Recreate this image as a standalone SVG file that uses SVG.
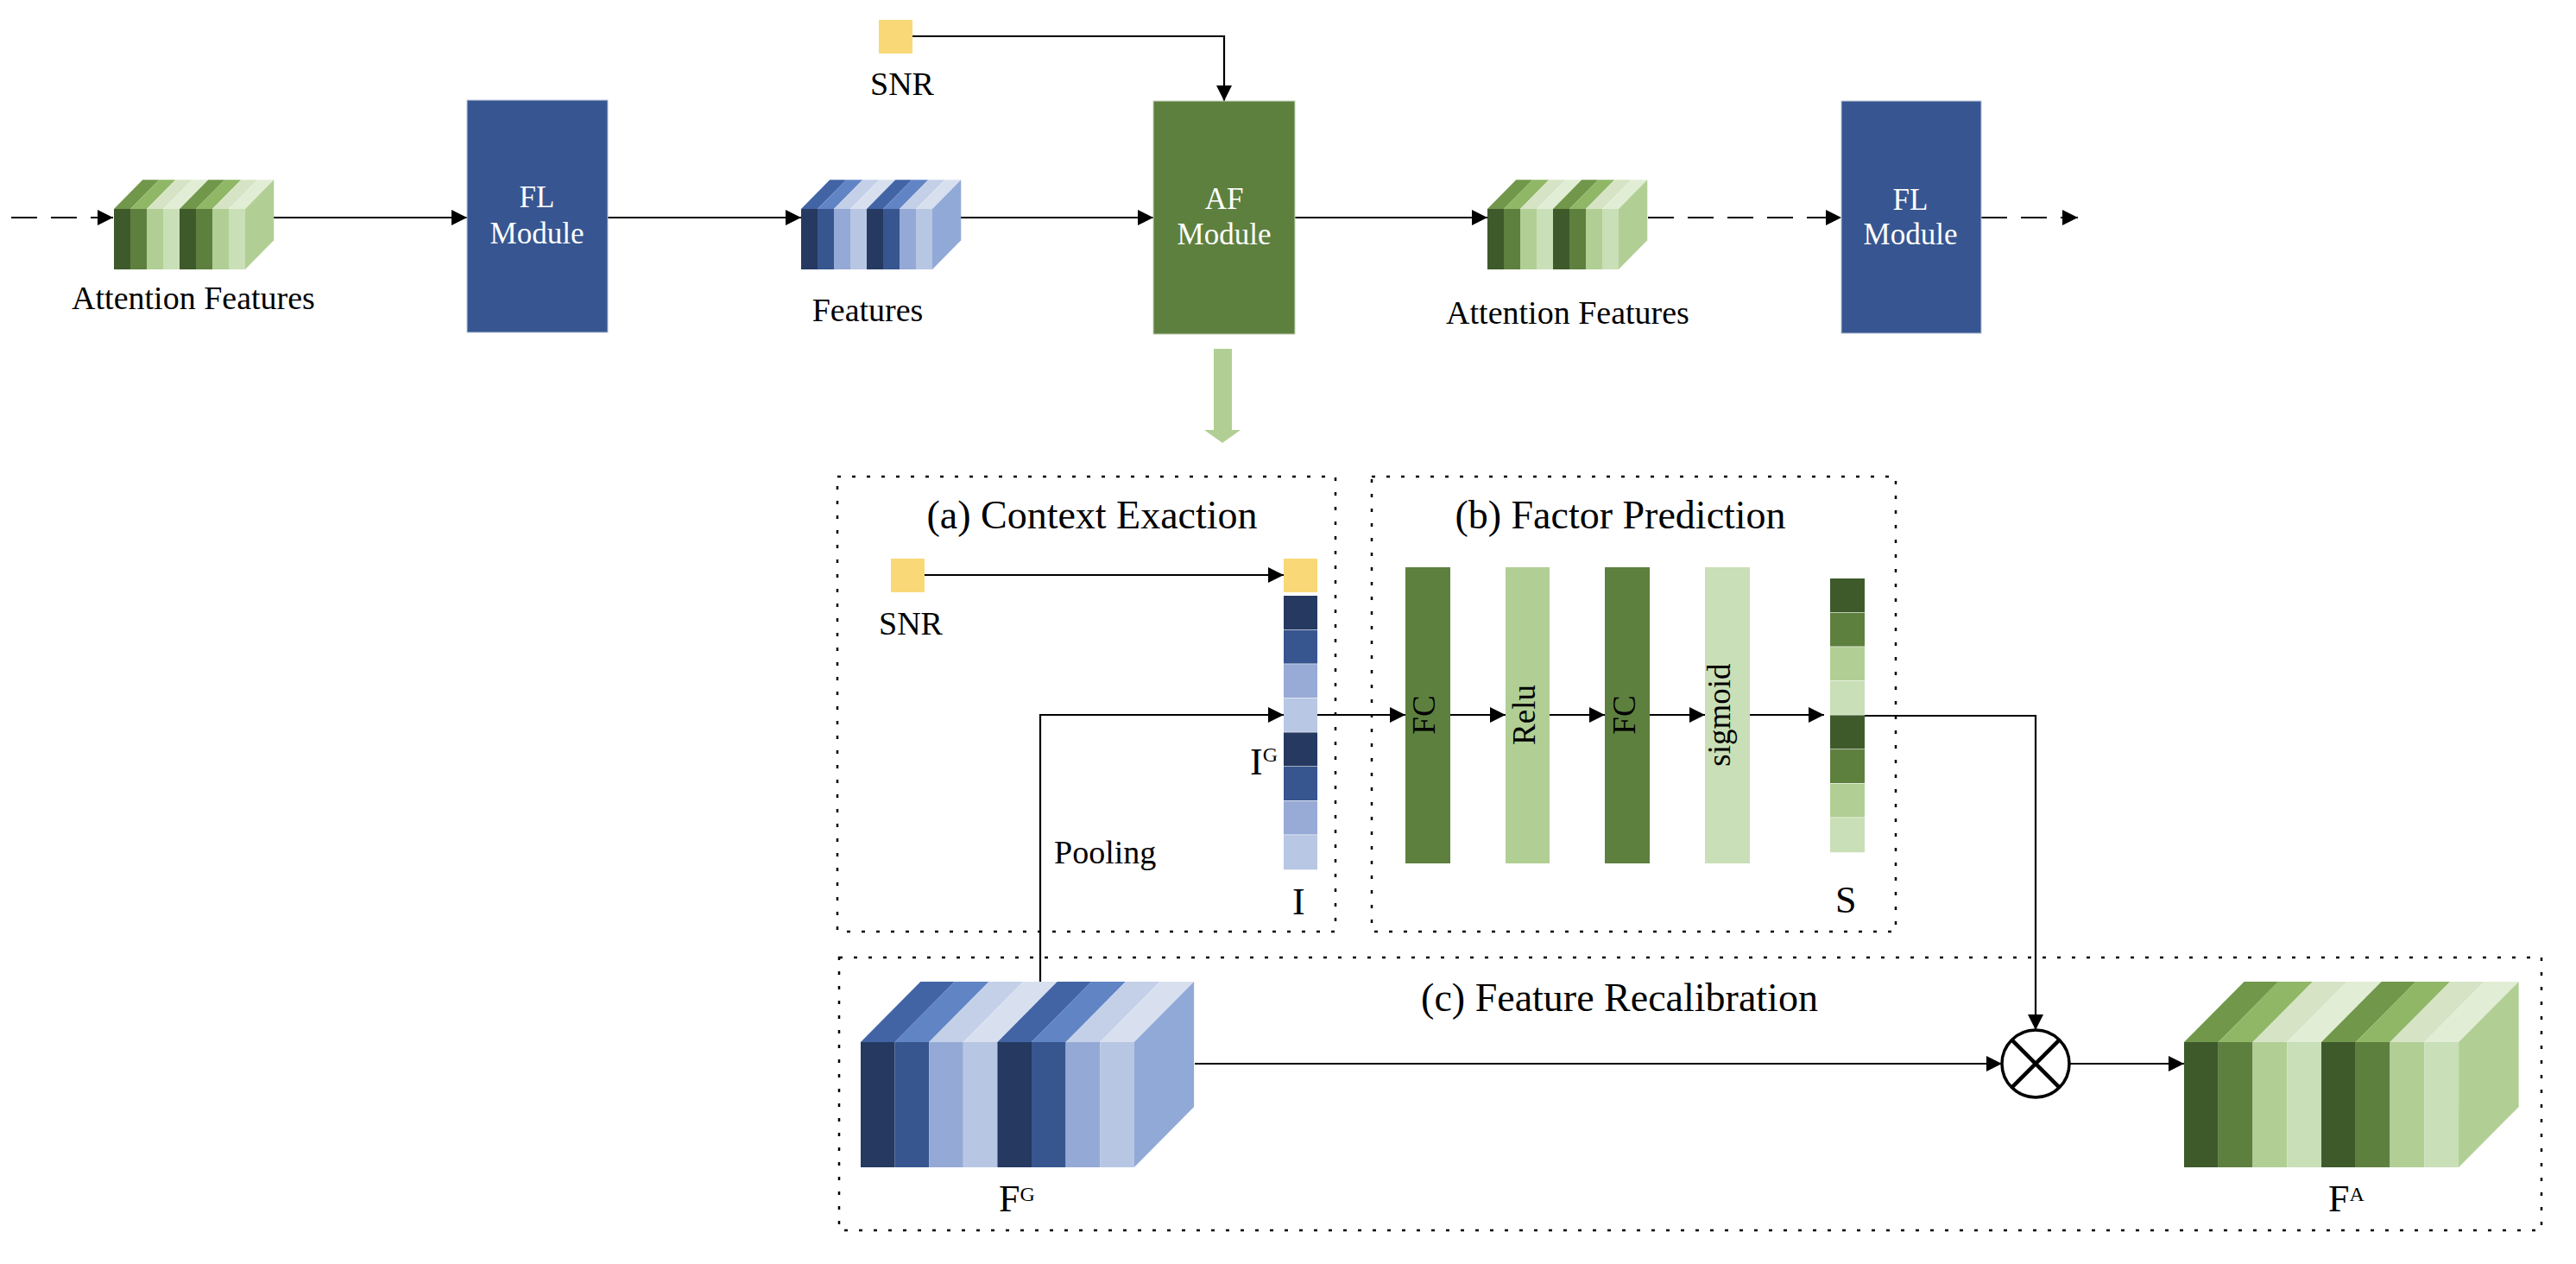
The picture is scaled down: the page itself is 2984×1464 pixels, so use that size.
<svg xmlns="http://www.w3.org/2000/svg" xmlns:xlink="http://www.w3.org/1999/xlink" width="2984" height="1464" viewBox="0 0 2984 1464">
<style>
text{font-family:"Liberation Serif","Times New Roman",serif;fill:#000}
.lbl{font-size:38px;text-anchor:middle}
.mod{font-size:35px;fill:#fff;text-anchor:middle}
.ttl{font-size:46px;text-anchor:middle}
.rot{font-size:37px;text-anchor:middle}
.ln{fill:none;stroke:#000;stroke-width:2.2}
.dash{stroke-dasharray:30 16}
.dot{fill:none;stroke:#000;stroke-width:2.5;stroke-dasharray:4 13}
.snr{fill:#f9d877}
</style>
<defs>
<marker id="ah" markerUnits="userSpaceOnUse" markerWidth="18" markerHeight="18" refX="18" refY="9" orient="auto">
<path d="M0,0 L18,9 L0,18 Z" fill="#000"/>
</marker>
<g id="cubeG">
<rect x="0" y="0" width="40" height="145" fill="#3e5a2b"/>
<rect x="40" y="0" width="40" height="145" fill="#5e803f"/>
<rect x="80" y="0" width="40" height="145" fill="#b1cf94"/>
<rect x="120" y="0" width="40" height="145" fill="#c9dfb7"/>
<rect x="160" y="0" width="40" height="145" fill="#3e5a2b"/>
<rect x="200" y="0" width="40" height="145" fill="#5e803f"/>
<rect x="240" y="0" width="40" height="145" fill="#b1cf94"/>
<rect x="280" y="0" width="40" height="145" fill="#c9dfb7"/>
<polygon points="0,0 40,0 110,-70 70,-70" fill="#71974a"/>
<polygon points="40,0 80,0 150,-70 110,-70" fill="#90b766"/>
<polygon points="80,0 120,0 190,-70 150,-70" fill="#d6e4c5"/>
<polygon points="120,0 160,0 230,-70 190,-70" fill="#e2edd6"/>
<polygon points="160,0 200,0 270,-70 230,-70" fill="#71974a"/>
<polygon points="200,0 240,0 310,-70 270,-70" fill="#90b766"/>
<polygon points="240,0 280,0 350,-70 310,-70" fill="#d6e4c5"/>
<polygon points="280,0 320,0 390,-70 350,-70" fill="#e2edd6"/>
<polygon points="320,0 390,-70 390,75 320,145" fill="#b1cf94"/>
</g>
<g id="cubeB">
<rect x="0" y="0" width="40" height="145" fill="#253961"/>
<rect x="40" y="0" width="40" height="145" fill="#37568f"/>
<rect x="80" y="0" width="40" height="145" fill="#94a9d5"/>
<rect x="120" y="0" width="40" height="145" fill="#b7c6e3"/>
<rect x="160" y="0" width="40" height="145" fill="#253961"/>
<rect x="200" y="0" width="40" height="145" fill="#37568f"/>
<rect x="240" y="0" width="40" height="145" fill="#94a9d5"/>
<rect x="280" y="0" width="40" height="145" fill="#b7c6e3"/>
<polygon points="0,0 40,0 110,-70 70,-70" fill="#4264a5"/>
<polygon points="40,0 80,0 150,-70 110,-70" fill="#6184c4"/>
<polygon points="80,0 120,0 190,-70 150,-70" fill="#c3d0e8"/>
<polygon points="120,0 160,0 230,-70 190,-70" fill="#d8e0ef"/>
<polygon points="160,0 200,0 270,-70 230,-70" fill="#4264a5"/>
<polygon points="200,0 240,0 310,-70 270,-70" fill="#6184c4"/>
<polygon points="240,0 280,0 350,-70 310,-70" fill="#c3d0e8"/>
<polygon points="280,0 320,0 390,-70 350,-70" fill="#d8e0ef"/>
<polygon points="320,0 390,-70 390,75 320,145" fill="#91a9d7"/>
</g>
</defs>
<rect width="2984" height="1464" fill="#fff"/>

<!-- dotted region boxes -->
<g id="regions">
<rect class="dot" x="970" y="552" width="577" height="527"/>
<rect class="dot" x="1589" y="552" width="607" height="527"/>
<rect class="dot" x="972" y="1109" width="1972" height="316"/>
<text class="ttl" x="1265" y="612">(a) Context Exaction</text>
<text class="ttl" x="1877" y="612">(b) Factor Prediction</text>
<text class="ttl" x="1876" y="1171">(c) Feature Recalibration</text>
</g>

<!-- connectors -->
<g id="connectors">
<path class="ln dash" d="M13,252 H131" marker-end="url(#ah)"/>
<path class="ln" d="M317,252 H541" marker-end="url(#ah)"/>
<path class="ln" d="M704,252 H928" marker-end="url(#ah)"/>
<path class="ln" d="M1113,252 H1336" marker-end="url(#ah)"/>
<path class="ln" d="M1057,42 H1418 V117" marker-end="url(#ah)"/>
<path class="ln" d="M1500,252 H1723" marker-end="url(#ah)"/>
<path class="ln dash" d="M1909,252 H2133" marker-end="url(#ah)"/>
<path class="ln dash" d="M2295,252 H2407" marker-end="url(#ah)"/>
<polygon points="1406,404 1427,404 1427,498 1437,498 1416,513 1395,498 1406,498" fill="#b1cf94"/>
<path class="ln" d="M1071,666 H1487" marker-end="url(#ah)"/>
<path class="ln" d="M1205,1137 V828 H1487" marker-end="url(#ah)"/>
<path class="ln" d="M1526,828 H1628" marker-end="url(#ah)"/>
<path class="ln" d="M1680,828 H1744" marker-end="url(#ah)"/>
<path class="ln" d="M1795,828 H1859" marker-end="url(#ah)"/>
<path class="ln" d="M1911,828 H1975" marker-end="url(#ah)"/>
<path class="ln" d="M2027,828 H2113" marker-end="url(#ah)"/>
<path class="ln" d="M2160,829 H2358 V1193" marker-end="url(#ah)"/>
<path class="ln" d="M1384,1232 H2319" marker-end="url(#ah)"/>
<path class="ln" d="M2397,1232 H2530" marker-end="url(#ah)"/>
<text x="1221" y="1000" font-size="38">Pooling</text>
</g>

<!-- top row nodes -->
<g id="attn1">
<use xlink:href="#cubeG" transform="translate(132,242) scale(0.475,0.483)"/>
<text class="lbl" x="224" y="358">Attention Features</text>
</g>
<g id="fl1">
<rect x="541" y="116" width="163" height="269" fill="#375691" stroke="#b8c2d6" stroke-width="1"/>
<text class="mod" x="622" y="240">FL</text>
<text class="mod" x="622" y="282">Module</text>
</g>
<g id="features">
<use xlink:href="#cubeB" transform="translate(928,242) scale(0.475,0.483)"/>
<text class="lbl" x="1005" y="372">Features</text>
</g>
<g id="snr-top">
<rect class="snr" x="1018" y="23" width="39" height="39"/>
<text class="lbl" x="1045" y="110">SNR</text>
</g>
<g id="af">
<rect x="1336" y="117" width="164" height="270" fill="#5e803f" stroke="#c4d2b8" stroke-width="1"/>
<text class="mod" x="1418" y="242">AF</text>
<text class="mod" x="1418" y="283">Module</text>
</g>
<g id="attn2">
<use xlink:href="#cubeG" transform="translate(1723,242) scale(0.475,0.483)"/>
<text class="lbl" x="1816" y="375">Attention Features</text>
</g>
<g id="fl2">
<rect x="2133" y="117" width="162" height="269" fill="#375691" stroke="#b8c2d6" stroke-width="1"/>
<text class="mod" x="2213" y="243">FL</text>
<text class="mod" x="2213" y="283">Module</text>
</g>

<!-- (a) context extraction -->
<g id="snr-low">
<rect class="snr" x="1032" y="647" width="39" height="39"/>
<text class="lbl" x="1055" y="735">SNR</text>
</g>
<g id="vecI">
<rect class="snr" x="1487" y="647" width="39" height="39"/>
<rect x="1487" y="690" width="39" height="39" fill="#253961"/>
<rect x="1487" y="729.6" width="39" height="39" fill="#37568f"/>
<rect x="1487" y="769.2" width="39" height="39" fill="#98abd6"/>
<rect x="1487" y="808.8" width="39" height="39" fill="#b8c7e4"/>
<rect x="1487" y="848.4" width="39" height="39" fill="#253961"/>
<rect x="1487" y="888" width="39" height="39" fill="#37568f"/>
<rect x="1487" y="927.6" width="39" height="39" fill="#98abd6"/>
<rect x="1487" y="967.2" width="39" height="40" fill="#b8c7e4"/>
<text x="1448" y="897" font-size="44">I<tspan font-size="24" dy="-15">G</tspan></text>
<text x="1497" y="1059" font-size="44">I</text>
</g>

<!-- (b) factor prediction -->
<g id="fc1">
<rect x="1628" y="657" width="52" height="343" fill="#5e803f"/>
<text class="rot" transform="translate(1662,828) rotate(-90)">FC</text>
</g>
<g id="relu">
<rect x="1744" y="657" width="51" height="343" fill="#b1cf94"/>
<text class="rot" transform="translate(1778,828) rotate(-90)">Relu</text>
</g>
<g id="fc2">
<rect x="1859" y="657" width="52" height="343" fill="#5e803f"/>
<text class="rot" transform="translate(1894,828) rotate(-90)">FC</text>
</g>
<g id="sigmoid">
<rect x="1975" y="657" width="52" height="343" fill="#c9dfb7"/>
<text class="rot" transform="translate(2004,828) rotate(-90)">sigmoid</text>
</g>
<g id="vecS">
<rect x="2120" y="670" width="40" height="39" fill="#3e5a2b"/>
<rect x="2120" y="709.6" width="40" height="39" fill="#5e803f"/>
<rect x="2120" y="749.2" width="40" height="39" fill="#b1cf94"/>
<rect x="2120" y="788.8" width="40" height="39" fill="#c9dfb7"/>
<rect x="2120" y="828.4" width="40" height="39" fill="#3e5a2b"/>
<rect x="2120" y="868" width="40" height="39" fill="#5e803f"/>
<rect x="2120" y="907.6" width="40" height="39" fill="#b1cf94"/>
<rect x="2120" y="947.2" width="40" height="40" fill="#c9dfb7"/>
<text x="2126" y="1057" font-size="44">S</text>
</g>

<!-- (c) feature recalibration -->
<g id="FG">
<use xlink:href="#cubeB" transform="translate(997,1207) scale(0.99,1)"/>
<text x="1157" y="1403" font-size="44">F<tspan font-size="24" dy="-12">G</tspan></text>
</g>
<g id="mult">
<circle cx="2358" cy="1232" r="39" fill="#fff" stroke="#000" stroke-width="3.5"/>
<path d="M2330.4,1204.4 L2385.6,1259.6 M2385.6,1204.4 L2330.4,1259.6" stroke="#000" stroke-width="4.5" fill="none"/>
</g>
<g id="FA">
<use xlink:href="#cubeG" transform="translate(2530,1207) scale(0.994,1)"/>
<text x="2697" y="1403" font-size="44">F<tspan font-size="24" dy="-12">A</tspan></text>
</g>
</svg>
